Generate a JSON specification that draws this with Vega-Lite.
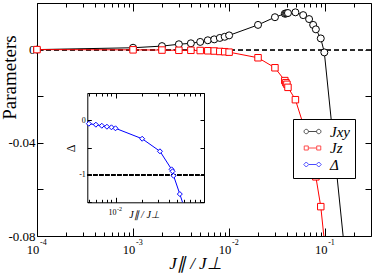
{
  "$schema": "https://vega.github.io/schema/vega-lite/v6.json",
  "autosize": {"type": "none"},
  "width": 334,
  "height": 233,
  "padding": {"left": 37, "top": 3, "right": 3, "bottom": 43},
  "background": "white",
  "datasets": {
    "main": [
      {"x": 0.0001, "series": "Jxy", "v": 0},
      {"x": 0.001, "series": "Jxy", "v": 0.0008},
      {"x": 0.002, "series": "Jxy", "v": 0.0015},
      {"x": 0.003, "series": "Jxy", "v": 0.0023},
      {"x": 0.004, "series": "Jxy", "v": 0.0027},
      {"x": 0.005, "series": "Jxy", "v": 0.0033},
      {"x": 0.006, "series": "Jxy", "v": 0.004},
      {"x": 0.007, "series": "Jxy", "v": 0.0044},
      {"x": 0.008, "series": "Jxy", "v": 0.005},
      {"x": 0.009, "series": "Jxy", "v": 0.0055},
      {"x": 0.01, "series": "Jxy", "v": 0.0061},
      {"x": 0.02, "series": "Jxy", "v": 0.0106},
      {"x": 0.03, "series": "Jxy", "v": 0.0139},
      {"x": 0.038, "series": "Jxy", "v": 0.0154},
      {"x": 0.039, "series": "Jxy", "v": 0.0155},
      {"x": 0.04, "series": "Jxy", "v": 0.0156},
      {"x": 0.041, "series": "Jxy", "v": 0.0157},
      {"x": 0.049, "series": "Jxy", "v": 0.016},
      {"x": 0.059, "series": "Jxy", "v": 0.0148},
      {"x": 0.068, "series": "Jxy", "v": 0.0131},
      {"x": 0.075, "series": "Jxy", "v": 0.0106},
      {"x": 0.08, "series": "Jxy", "v": 0.0087},
      {"x": 0.09, "series": "Jxy", "v": 0.0048},
      {"x": 0.098, "series": "Jxy", "v": -0.0012},
      {"x": 0.2, "series": "Jxy", "v": -0.126},
      {"x": 0.0001, "series": "Jz", "v": 0},
      {"x": 0.001, "series": "Jz", "v": -0.0001},
      {"x": 0.002, "series": "Jz", "v": -0.0002},
      {"x": 0.003, "series": "Jz", "v": -0.0003},
      {"x": 0.004, "series": "Jz", "v": -0.0003},
      {"x": 0.005, "series": "Jz", "v": -0.0004},
      {"x": 0.006, "series": "Jz", "v": -0.0005},
      {"x": 0.007, "series": "Jz", "v": -0.0006},
      {"x": 0.008, "series": "Jz", "v": -0.0008},
      {"x": 0.009, "series": "Jz", "v": -0.0009},
      {"x": 0.01, "series": "Jz", "v": -0.0011},
      {"x": 0.02, "series": "Jz", "v": -0.0035},
      {"x": 0.03, "series": "Jz", "v": -0.0078},
      {"x": 0.038, "series": "Jz", "v": -0.0133},
      {"x": 0.039, "series": "Jz", "v": -0.0142},
      {"x": 0.04, "series": "Jz", "v": -0.0149},
      {"x": 0.041, "series": "Jz", "v": -0.0162},
      {"x": 0.049, "series": "Jz", "v": -0.0215},
      {"x": 0.059, "series": "Jz", "v": -0.032},
      {"x": 0.068, "series": "Jz", "v": -0.041},
      {"x": 0.075, "series": "Jz", "v": -0.049},
      {"x": 0.08, "series": "Jz", "v": -0.0546},
      {"x": 0.09, "series": "Jz", "v": -0.0674},
      {"x": 0.098, "series": "Jz", "v": -0.082}
    ],
    "inset": [
      {"x": 0.005, "series": "Δ", "v": -0.062},
      {"x": 0.006, "series": "Δ", "v": -0.08},
      {"x": 0.007, "series": "Δ", "v": -0.099},
      {"x": 0.008, "series": "Δ", "v": -0.117},
      {"x": 0.009, "series": "Δ", "v": -0.128},
      {"x": 0.01, "series": "Δ", "v": -0.146},
      {"x": 0.02, "series": "Δ", "v": -0.337},
      {"x": 0.0318, "series": "Δ", "v": -0.567},
      {"x": 0.043, "series": "Δ", "v": -0.897},
      {"x": 0.0441, "series": "Δ", "v": -0.933},
      {"x": 0.0453, "series": "Δ", "v": -1.014},
      {"x": 0.0533, "series": "Δ", "v": -1.349},
      {"x": 0.0572, "series": "Δ", "v": -1.9}
    ]
  },
  "layer": [
    {
      "data": {"name": "main"},
      "resolve": {"axis": {"x": "independent", "y": "independent"}},
      "layer": [
        {
          "mark": {"type": "rule", "strokeDash": [5, 3], "color": "#333333", "strokeWidth": 1},
          "encoding": {
            "y": {"datum": 0, "type": "quantitative", "scale": {"domain": [-0.08, 0.02], "nice": false, "zero": false}, "axis": null}
          }
        },
        {
          "mark": {"type": "line", "clip": true, "strokeWidth": 1},
          "encoding": {
            "x": {"field": "x", "type": "quantitative", "scale": {"type": "log", "domain": [0.0001, 0.3], "nice": false},
              "axis": {"orient": "bottom", "values": [0.0001, 0.001, 0.01, 0.1], "tickSize": -8, "labels": false, "title": null, "domain": true}},
            "y": {"field": "v", "type": "quantitative", "scale": {"domain": [-0.08, 0.02], "nice": false, "zero": false},
              "axis": {"orient": "left", "values": [-0.08, -0.06, -0.04, -0.02, 0, 0.02], "tickSize": -6, "labels": false, "title": null, "domain": true}},
            "stroke": {"field": "series", "type": "nominal", "scale": {"domain": ["Jxy", "Jz"], "range": ["black", "red"]}, "legend": null}
          }
        },
        {
          "transform": [{"filter": "datum.series == 'Jxy' && datum.v >= -0.08"}],
          "mark": {"type": "point", "shape": "circle", "filled": true, "fill": "white", "stroke": "black", "strokeWidth": 1, "size": 49, "opacity": 1},
          "encoding": {
            "x": {"field": "x", "type": "quantitative", "scale": {"type": "log", "domain": [0.0001, 0.3], "nice": false},
              "axis": {"orient": "bottom", "values": [0.0002, 0.0003, 0.0004, 0.0005, 0.0006, 0.0007, 0.0008, 0.0009, 0.002, 0.003, 0.004, 0.005, 0.006, 0.007, 0.008, 0.009, 0.02, 0.03, 0.04, 0.05, 0.06, 0.07, 0.08, 0.09, 0.2], "tickSize": -4, "labels": false, "title": null, "domain": false}},
            "y": {"field": "v", "type": "quantitative", "scale": {"domain": [-0.08, 0.02], "nice": false, "zero": false},
              "axis": {"orient": "right", "values": [-0.08, -0.06, -0.04, -0.02, 0, 0.02], "tickSize": -6, "labels": false, "title": null, "domain": true}}
          }
        },
        {
          "transform": [{"filter": "datum.series == 'Jz' && datum.v >= -0.08"}],
          "mark": {"type": "point", "shape": "square", "filled": true, "fill": "white", "stroke": "red", "strokeWidth": 1, "size": 42, "opacity": 1},
          "encoding": {
            "x": {"field": "x", "type": "quantitative", "scale": {"type": "log", "domain": [0.0001, 0.3], "nice": false},
              "axis": {"orient": "top", "values": [0.0001, 0.001, 0.01, 0.1], "tickSize": -8, "labels": false, "title": null, "domain": true}},
            "y": {"field": "v", "type": "quantitative", "scale": {"domain": [-0.08, 0.02], "nice": false, "zero": false}, "axis": null}
          }
        },
        {
          "transform": [{"filter": "false"}],
          "mark": {"type": "point"},
          "encoding": {
            "x": {"field": "x", "type": "quantitative", "scale": {"type": "log", "domain": [0.0001, 0.3], "nice": false},
              "axis": {"orient": "top", "values": [0.0002, 0.0003, 0.0004, 0.0005, 0.0006, 0.0007, 0.0008, 0.0009, 0.002, 0.003, 0.004, 0.005, 0.006, 0.007, 0.008, 0.009, 0.02, 0.03, 0.04, 0.05, 0.06, 0.07, 0.08, 0.09, 0.2], "tickSize": -4, "labels": false, "title": null, "domain": false}},
            "y": {"field": "v", "type": "quantitative", "scale": {"domain": [-0.08, 0.02], "nice": false, "zero": false},
              "axis": {"orient": "left", "values": [-0.08, -0.04, 0], "ticks": false, "domain": false,
                "labelExpr": "datum.value == 0 ? '0' : (datum.value < -0.06 ? '-0.08' : '-0.04')",
                "labelFontSize": 13, "labelPadding": 2,
                "title": "Parameters", "titleFontSize": 19, "titleX": -22, "titleY": 74, "titleAngle": -90, "titleBaseline": "alphabetic", "titleAlign": "center"}}
          }
        },
        {
          "transform": [{"filter": "false"}],
          "mark": {"type": "point"},
          "encoding": {
            "x": {"field": "x", "type": "quantitative", "scale": {"type": "log", "domain": [0.0001, 0.3], "nice": false},
              "axis": {"orient": "bottom", "values": [0.0001, 0.001, 0.01, 0.1], "ticks": false, "domain": false,
                "labelExpr": "'10'", "labelFontSize": 12.5, "labelPadding": 7, "labelOffset": -4.5,
                "title": "J∥ / J⊥", "titleFontSize": 17, "titleFontStyle": "italic", "titleX": 158, "titleY": 32, "titleBaseline": "alphabetic", "titleAlign": "center"}}
          }
        },
        {
          "transform": [{"filter": "false"}],
          "mark": {"type": "point"},
          "encoding": {
            "x": {"field": "x", "type": "quantitative", "scale": {"type": "log", "domain": [0.0001, 0.3], "nice": false},
              "axis": {"orient": "bottom", "values": [0.0001, 0.001, 0.01, 0.1], "ticks": false, "domain": false,
                "labelExpr": "'' + round(log(datum.value) / LN10)", "labelFontSize": 8, "labelPadding": 2, "labelAlign": "left", "labelOffset": 2.5, "title": null}}
          }
        },
        {
          "transform": [{"filter": "false"}],
          "mark": {"type": "point", "filled": false, "size": 256, "strokeWidth": 1},
          "encoding": {
            "color": {"field": "series", "type": "nominal", "scale": {"domain": ["Jxy", "Jz", "Δ"], "range": ["black", "red", "blue"]}, "title": null},
            "shape": {"field": "series", "type": "nominal", "scale": {"domain": ["Jxy", "Jz", "Δ"], "range": [
              "M -0.8125 0 A 0.4375 0.4375 0 1 1 -1.6875 0 A 0.4375 0.4375 0 1 1 -0.8125 0 M -0.8125 0 L 0.8125 0 M 1.6875 0 A 0.4375 0.4375 0 1 1 0.8125 0 A 0.4375 0.4375 0 1 1 1.6875 0",
              "M -1.656 -0.406 L -0.844 -0.406 L -0.844 0.406 L -1.656 0.406 Z M -0.844 0 L 0.844 0 M 0.844 -0.406 L 1.656 -0.406 L 1.656 0.406 L 0.844 0.406 Z",
              "M -1.75 0 L -1.25 -0.5 L -0.75 0 L -1.25 0.5 Z M -0.75 0 L 0.75 0 M 0.75 0 L 1.25 -0.5 L 1.75 0 L 1.25 0.5 Z"
            ]}, "title": null}
          }
        }
      ]
    },
    {
      "data": {"name": "inset"},
      "resolve": {"axis": {"x": "independent", "y": "independent"}},
      "layer": [
        {
          "mark": {"type": "rule", "strokeDash": [4, 2], "color": "black", "strokeWidth": 1},
          "encoding": {
            "x": {"datum": 0.0048, "type": "quantitative", "scale": {"type": "log", "domain": [0.0048, 0.1], "range": [50.3, 167], "nice": false}, "axis": null},
            "x2": {"datum": 0.1},
            "y": {"datum": -1, "type": "quantitative", "scale": {"domain": [-1.5, 0.5], "range": [199.3, 90], "nice": false, "zero": false, "clamp": true}, "axis": null}
          }
        },
        {
          "mark": {"type": "line", "color": "blue", "strokeWidth": 1},
          "encoding": {
            "x": {"field": "x", "type": "quantitative", "scale": {"type": "log", "domain": [0.0048, 0.1], "range": [50.3, 167], "nice": false},
              "axis": {"orient": "bottom", "offset": -33.7, "values": [0.01, 0.1], "tickSize": -5, "labels": false, "title": null, "domain": true}},
            "y": {"field": "v", "type": "quantitative", "scale": {"domain": [-1.5, 0.5], "range": [199.3, 90], "nice": false, "zero": false, "clamp": true},
              "axis": {"orient": "left", "offset": -50.3, "values": [-1.5, -1, -0.5, 0, 0.5], "tickSize": -4, "labels": false, "title": null, "domain": true}}
          }
        },
        {
          "transform": [{"filter": "datum.v >= -1.5"}],
          "mark": {"type": "point", "shape": "diamond", "filled": true, "fill": "white", "stroke": "blue", "strokeWidth": 1, "size": 25, "opacity": 1},
          "encoding": {
            "x": {"field": "x", "type": "quantitative", "scale": {"type": "log", "domain": [0.0048, 0.1], "range": [50.3, 167], "nice": false},
              "axis": {"orient": "bottom", "offset": -33.7, "values": [0.005, 0.006, 0.007, 0.008, 0.009, 0.02, 0.03, 0.04, 0.05, 0.06, 0.07, 0.08, 0.09], "tickSize": -3, "labels": false, "title": null, "domain": false}},
            "y": {"field": "v", "type": "quantitative", "scale": {"domain": [-1.5, 0.5], "range": [199.3, 90], "nice": false, "zero": false, "clamp": true},
              "axis": {"orient": "right", "offset": -167, "values": [-1.5, -1, -0.5, 0, 0.5], "tickSize": -4, "labels": false, "title": null, "domain": true}}
          }
        },
        {
          "transform": [{"filter": "false"}],
          "mark": {"type": "point"},
          "encoding": {
            "x": {"field": "x", "type": "quantitative", "scale": {"type": "log", "domain": [0.0048, 0.1], "range": [50.3, 167], "nice": false},
              "axis": {"orient": "top", "offset": -90, "values": [0.01, 0.1], "tickSize": -5, "labels": false, "title": null, "domain": true}},
            "y": {"field": "v", "type": "quantitative", "scale": {"domain": [-1.5, 0.5], "range": [199.3, 90], "nice": false, "zero": false, "clamp": true},
              "axis": {"orient": "left", "offset": -50.3, "values": [-1, 0], "ticks": false, "domain": false,
                "labelExpr": "datum.value == 0 ? '0' : '-1'", "labelFontSize": 8, "labelPadding": 2,
                "title": "Δ", "titleFontSize": 12, "titleX": -13, "titleY": 145, "titleAngle": -90, "titleBaseline": "alphabetic", "titleAlign": "center"}}
          }
        },
        {
          "transform": [{"filter": "false"}],
          "mark": {"type": "point"},
          "encoding": {
            "x": {"field": "x", "type": "quantitative", "scale": {"type": "log", "domain": [0.0048, 0.1], "range": [50.3, 167], "nice": false},
              "axis": {"orient": "top", "offset": -90, "values": [0.005, 0.006, 0.007, 0.008, 0.009, 0.02, 0.03, 0.04, 0.05, 0.06, 0.07, 0.08, 0.09], "tickSize": -3, "labels": false, "title": null, "domain": false}}
          }
        },
        {
          "transform": [{"filter": "false"}],
          "mark": {"type": "point"},
          "encoding": {
            "x": {"field": "x", "type": "quantitative", "scale": {"type": "log", "domain": [0.0048, 0.1], "range": [50.3, 167], "nice": false},
              "axis": {"orient": "bottom", "offset": -33.7, "values": [0.01], "ticks": false, "domain": false,
                "labelExpr": "'10'", "labelFontSize": 8, "labelPadding": 6, "labelOffset": -3.5,
                "title": "J∥ / J⊥", "titleFontSize": 10, "titleFontStyle": "italic", "titleX": 107, "titleY": 15, "titleBaseline": "alphabetic", "titleAlign": "center"}}
          }
        },
        {
          "transform": [{"filter": "false"}],
          "mark": {"type": "point"},
          "encoding": {
            "x": {"field": "x", "type": "quantitative", "scale": {"type": "log", "domain": [0.0048, 0.1], "range": [50.3, 167], "nice": false},
              "axis": {"orient": "bottom", "offset": -33.7, "values": [0.01], "ticks": false, "domain": false,
                "labelExpr": "'' + round(log(datum.value) / LN10)", "labelFontSize": 6, "labelPadding": 3, "labelAlign": "left", "labelOffset": 1, "title": null}}
          }
        }
      ]
    }
  ],
  "resolve": {"scale": {"x": "independent", "y": "independent"}, "axis": {"x": "independent", "y": "independent"}},
  "config": {
    "view": {"stroke": null},
    "axis": {"grid": false, "domainColor": "black", "tickColor": "black", "labelColor": "black", "titleColor": "black",
      "labelFont": "Liberation Serif", "titleFont": "Liberation Serif", "titleFontWeight": "normal",
      "labelFlush": false, "labelOverlap": false, "domainWidth": 1, "tickWidth": 1},
    "legend": {"orient": "none", "legendX": 256, "legendY": 116, "fillColor": "white", "strokeColor": "black", "padding": 5,
      "labelFont": "Liberation Serif", "labelFontSize": 15, "labelFontStyle": "italic", "labelColor": "black",
      "symbolStrokeWidth": 1, "rowPadding": 0.5, "labelOffset": 10, "symbolOffset": 7}
  }
}
